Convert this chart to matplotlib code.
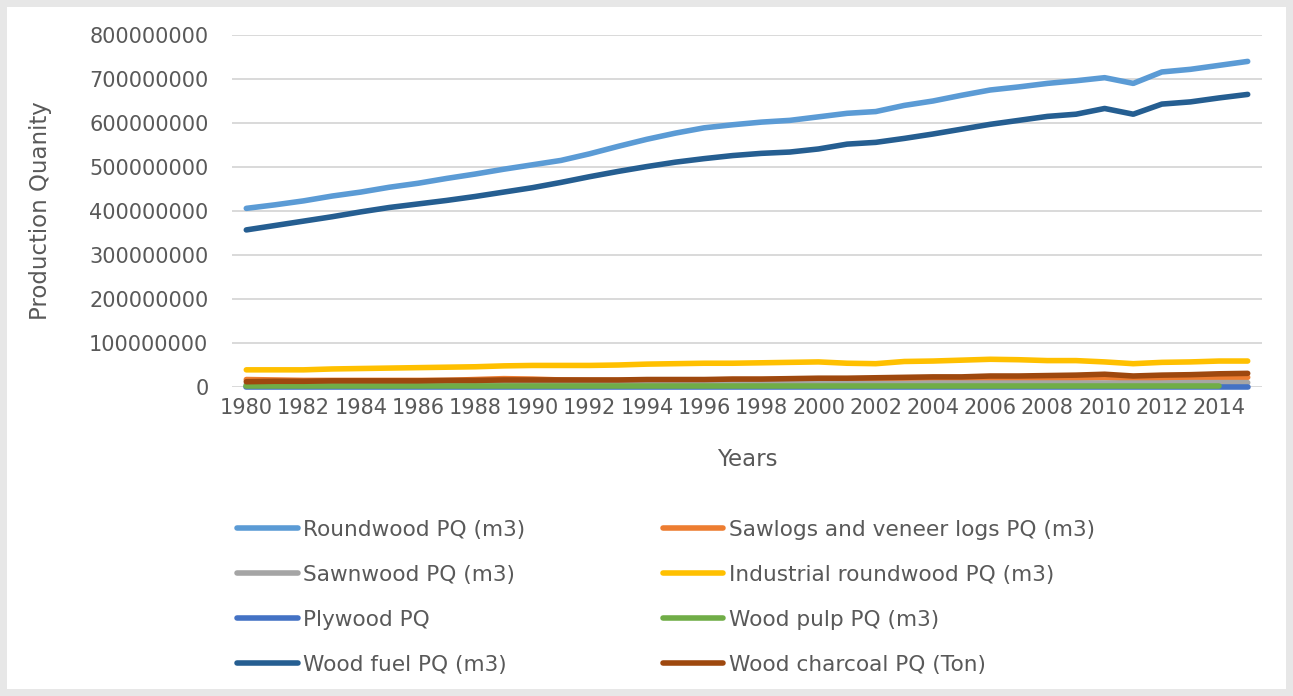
# plot.py - forest products production quantities, 1980-2015 (Excel-style line chart)
import numpy as np
import matplotlib
matplotlib.use("Agg")
import matplotlib.pyplot as plt
from matplotlib.patches import Rectangle

# ---------------- Data (values in millions) ----------------
years = list(range(1980, 2016))

roundwood = [406, 414, 423, 434, 443, 454, 463, 474, 484, 495,
             505, 515, 530, 547, 563, 577, 589, 596, 602, 606,
             614, 622, 626, 640, 650, 663, 675, 682, 690, 696,
             703, 690, 716, 722, 731, 740]
sawlogs = [17, 16, 15, 15, 15, 15, 15, 15, 17, 19,
           18, 16, 15, 15, 15, 16, 16, 17, 17, 17,
           17, 17, 17, 18, 18, 19, 19, 20, 20, 20,
           21, 19, 20, 21, 22, 22]
sawnwood = [6, 6, 6, 6, 6, 6, 6, 7, 7, 7,
            7, 7, 7, 7, 7, 7, 7, 7, 8, 8,
            8, 8, 8, 8, 9, 9, 9, 9, 9, 9,
            9, 9, 9, 10, 10, 10]
industrial = [39, 39, 39, 41, 42, 43, 44, 45, 46, 48,
              49, 49, 49, 50, 52, 53, 54, 54, 55, 56,
              57, 54, 53, 58, 59, 61, 63, 62, 60, 60,
              57, 53, 56, 57, 59, 59]
plywood = [0.5, 0.5, 0.5, 0.5, 0.5, 0.5, 0.5, 0.5, 0.5, 0.5,
           0.5, 0.5, 0.5, 0.5, 0.5, 0.5, 0.5, 0.5, 0.5, 0.5,
           0.5, 0.5, 0.5, 0.5, 0.5, 0.5, 0.5, 0.5, 0.5, 0.5,
           0.5, 0.5, 0.5, 0.5, 0.5, 0.5]
wood_pulp = [2, 2, 2, 2, 2, 2, 2, 2, 2, 2,
             2, 2, 2, 2, 2, 2, 2, 2, 2, 2,
             2, 2, 2, 2, 2, 2, 2, 2, 2, 2,
             2, 2, 2, 2, 2, np.nan]
wood_fuel = [357, 367, 377, 387, 398, 408, 416, 424, 433, 443,
             453, 465, 478, 490, 501, 511, 519, 526, 531, 534,
             541, 552, 556, 565, 575, 586, 597, 606, 615, 620,
             633, 620, 643, 648, 657, 665]
charcoal = [12, 13, 13, 14, 14, 14, 14, 15, 15, 16,
            16, 16, 16, 16, 17, 17, 17, 18, 18, 19,
            20, 20, 21, 22, 23, 23, 25, 25, 26, 27,
            29, 25, 27, 28, 30, 31]

series_names = ["Roundwood PQ (m3)", "Sawlogs and veneer logs PQ (m3)",
                "Sawnwood PQ (m3)", "Industrial roundwood PQ (m3)",
                "Plywood PQ", "Wood pulp PQ (m3)",
                "Wood fuel PQ (m3)", "Wood charcoal PQ (Ton)"]
series_vals = [roundwood, sawlogs, sawnwood, industrial,
               plywood, wood_pulp, wood_fuel, charcoal]
colors = ["#5B9BD5", "#ED7D31", "#A5A5A5", "#FFC000",
          "#4472C4", "#70AD47", "#255E91", "#9E480E"]

y_ticks = list(range(0, 800000001, 100000000))
x_ticks = list(range(1980, 2016, 2))

TXT = "#595959"
FS = 15
LW = 4.0

W, H = 1293, 696
fig = plt.figure(figsize=(W / 100, H / 100), dpi=100, facecolor="#E7E7E7")
# white chart area inside a light grey frame
frame = Rectangle((7 / W, 7 / H), (W - 14) / W, (H - 14) / H,
                  transform=fig.transFigure, facecolor="white",
                  edgecolor="none", zorder=-10)
fig.add_artist(frame)

ax = fig.add_axes([232 / W, 1 - 387 / H, (1262 - 232) / W, (387 - 35) / H])
ax.set_facecolor("none")
ax.set_zorder(1)

handles = []
for name, vals, c in zip(series_names, series_vals, colors):
    v = np.array(vals, dtype=float) * 1e6
    h, = ax.plot(years, v, color=c, lw=LW, label=name,
                 solid_capstyle="round", solid_joinstyle="round", clip_on=False)
    handles.append(h)

ax.set_xlim(1979.5, 2015.5)
ax.set_ylim(0, 800000000)
ax.set_yticks(y_ticks)
ax.set_yticklabels([str(v) for v in y_ticks])
ax.set_xticks(x_ticks)
ax.set_xticklabels([str(v) for v in x_ticks])
ax.grid(axis="y", color="#D9D9D9", lw=1.4)
ax.set_axisbelow(True)
for s in ax.spines.values():
    s.set_visible(False)
ax.tick_params(axis="both", length=0, colors=TXT, labelsize=FS)
ax.tick_params(axis="y", pad=17)
ax.tick_params(axis="x", pad=8)

fig.text(41 / W, 1 - 211 / H, "Production Quanity", rotation=90,
         ha="center", va="center", fontsize=16.5, color=TXT)
fig.text(747 / W, 1 - 460 / H, "Years", ha="center", va="center",
         fontsize=16.5, color=TXT)

# Excel fills the legend row-wise; matplotlib fills column-wise
order = [0, 2, 4, 6, 1, 3, 5, 7]
leg = fig.legend([handles[i] for i in order], [series_names[i] for i in order],
                 loc="upper left", bbox_to_anchor=(237 / W, 1 - 520 / H),
                 ncol=2, frameon=False, fontsize=15.6, handlelength=2.8,
                 handletextpad=0.25, columnspacing=6.35, labelspacing=1.15,
                 borderaxespad=0, borderpad=0)
for t in leg.get_texts():
    t.set_color(TXT)
for lh in leg.legend_handles:
    lh.set_linewidth(LW)

fig.savefig("out.png", dpi=100, facecolor=fig.get_facecolor())
